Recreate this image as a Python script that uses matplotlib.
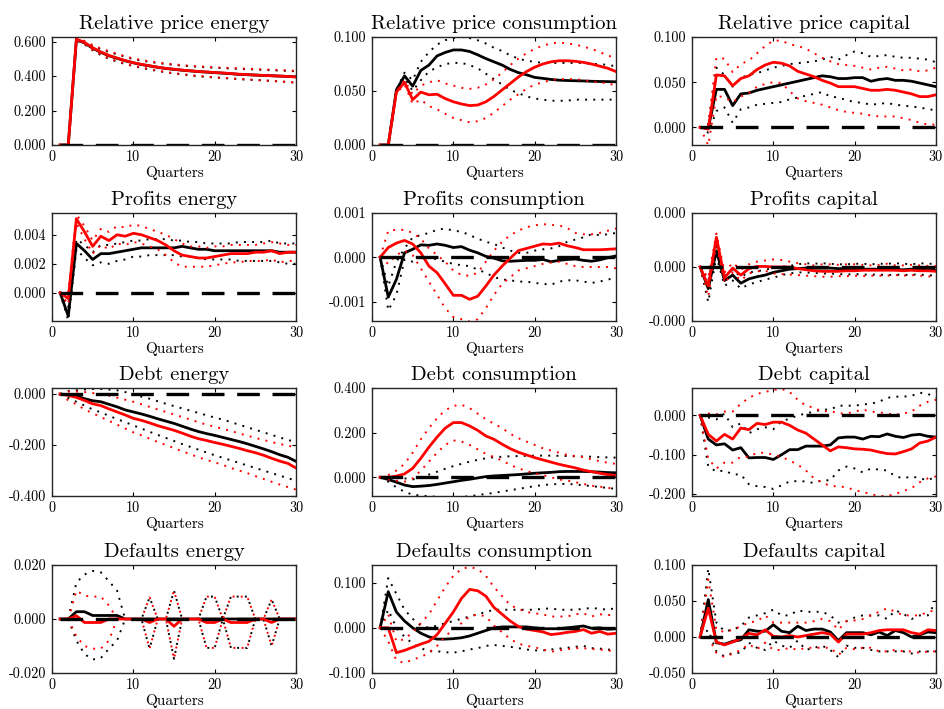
import numpy as np
import matplotlib
matplotlib.use("Agg")
import matplotlib.pyplot as plt
from matplotlib.ticker import FormatStrFormatter

plt.rcParams["font.family"] = "cmr10"
plt.rcParams["mathtext.fontset"] = "cm"
plt.rcParams["axes.unicode_minus"] = False

quarters = np.arange(1, 31)

# --- Relative price energy ---
rpe_b = [0, 0, 0.612, 0.592, 0.562, 0.538, 0.518, 0.503, 0.489, 0.477, 0.467, 0.459, 0.451, 0.444, 0.439,
         0.434, 0.430, 0.426, 0.423, 0.420, 0.417, 0.414, 0.410, 0.408, 0.406, 0.404, 0.402, 0.400, 0.398, 0.396]
rpe_b_hi = [0, 0, 0.618, 0.600, 0.576, 0.556, 0.540, 0.526, 0.512, 0.498, 0.490, 0.482, 0.476, 0.470, 0.465,
            0.461, 0.457, 0.454, 0.451, 0.448, 0.446, 0.444, 0.442, 0.440, 0.438, 0.436, 0.434, 0.432, 0.430, 0.428]
rpe_b_lo = [0, 0, 0.606, 0.584, 0.550, 0.522, 0.500, 0.484, 0.470, 0.458, 0.448, 0.438, 0.430, 0.422, 0.415,
            0.410, 0.404, 0.399, 0.395, 0.392, 0.389, 0.386, 0.382, 0.379, 0.377, 0.375, 0.372, 0.369, 0.366, 0.362]
rpe_r = [0, 0, 0.615, 0.595, 0.565, 0.540, 0.520, 0.505, 0.490, 0.478, 0.468, 0.460, 0.452, 0.445, 0.440,
         0.435, 0.431, 0.427, 0.424, 0.421, 0.418, 0.415, 0.411, 0.409, 0.406, 0.404, 0.402, 0.400, 0.398, 0.395]
rpe_r_hi = [0, 0, 0.620, 0.604, 0.580, 0.560, 0.545, 0.530, 0.515, 0.502, 0.494, 0.486, 0.479, 0.473, 0.468,
            0.464, 0.460, 0.457, 0.454, 0.451, 0.449, 0.447, 0.445, 0.443, 0.441, 0.439, 0.437, 0.435, 0.433, 0.431]
rpe_r_lo = [0, 0, 0.608, 0.586, 0.552, 0.525, 0.503, 0.487, 0.473, 0.460, 0.450, 0.441, 0.432, 0.424, 0.417,
            0.412, 0.406, 0.401, 0.397, 0.393, 0.390, 0.387, 0.384, 0.381, 0.378, 0.375, 0.372, 0.369, 0.366, 0.362]

# --- Relative price consumption ---
rpc_b = [0, 0, 0.051, 0.064, 0.0545, 0.069, 0.074, 0.0825, 0.0857, 0.088, 0.088, 0.0866, 0.0835, 0.080, 0.077,
         0.074, 0.070, 0.067, 0.065, 0.0626, 0.0617, 0.0607, 0.060, 0.0597, 0.0595, 0.0593, 0.059, 0.0588, 0.0587, 0.0585]
rpc_b_hi = [0, 0, 0.051, 0.067, 0.060, 0.077, 0.086, 0.093, 0.097, 0.099, 0.100, 0.099, 0.097, 0.094, 0.090,
            0.087, 0.083, 0.080, 0.078, 0.077, 0.076, 0.076, 0.076, 0.076, 0.076, 0.076, 0.075, 0.075, 0.074, 0.073]
rpc_b_lo = [0, 0, 0.050, 0.062, 0.050, 0.060, 0.068, 0.072, 0.075, 0.076, 0.076, 0.074, 0.071, 0.066, 0.061,
            0.056, 0.051, 0.048, 0.045, 0.043, 0.042, 0.041, 0.041, 0.041, 0.042, 0.042, 0.042, 0.042, 0.042, 0.042]
rpc_r = [0, 0, 0.049, 0.058, 0.042, 0.049, 0.0465, 0.047, 0.043, 0.040, 0.038, 0.0365, 0.037, 0.040, 0.045,
         0.051, 0.057, 0.063, 0.068, 0.072, 0.075, 0.077, 0.078, 0.078, 0.0775, 0.0765, 0.075, 0.073, 0.071, 0.068]
rpc_r_hi = [0, 0, 0.050, 0.060, 0.047, 0.055, 0.058, 0.060, 0.057, 0.055, 0.053, 0.052, 0.053, 0.056, 0.061,
            0.067, 0.074, 0.080, 0.085, 0.089, 0.092, 0.094, 0.095, 0.094, 0.093, 0.091, 0.089, 0.086, 0.083, 0.080]
rpc_r_lo = [0, 0, 0.048, 0.056, 0.038, 0.042, 0.036, 0.033, 0.029, 0.025, 0.023, 0.021, 0.022, 0.025, 0.030,
            0.036, 0.042, 0.047, 0.052, 0.056, 0.058, 0.060, 0.061, 0.061, 0.061, 0.060, 0.059, 0.058, 0.057, 0.055]

# --- Relative price capital ---
rpk_b = [0, -0.001, 0.042, 0.042, 0.024, 0.037, 0.038, 0.041, 0.043, 0.045, 0.047, 0.049, 0.051, 0.053, 0.055,
         0.057, 0.056, 0.054, 0.054, 0.055, 0.055, 0.051, 0.053, 0.054, 0.052, 0.052, 0.051, 0.049, 0.047, 0.045]
rpk_b_hi = [0, 0.003, 0.066, 0.058, 0.045, 0.055, 0.058, 0.060, 0.063, 0.066, 0.068, 0.070, 0.071, 0.072, 0.073,
            0.075, 0.078, 0.075, 0.080, 0.084, 0.082, 0.078, 0.079, 0.080, 0.078, 0.077, 0.077, 0.076, 0.075, 0.072]
rpk_b_lo = [0, -0.006, 0.018, 0.022, 0.005, 0.020, 0.022, 0.025, 0.026, 0.027, 0.028, 0.031, 0.033, 0.035, 0.037,
            0.039, 0.034, 0.033, 0.030, 0.028, 0.027, 0.025, 0.026, 0.027, 0.025, 0.024, 0.023, 0.022, 0.020, 0.019]
rpk_r = [0, -0.002, 0.058, 0.057, 0.046, 0.054, 0.057, 0.064, 0.069, 0.072, 0.071, 0.068, 0.062, 0.059, 0.056,
         0.052, 0.049, 0.045, 0.045, 0.045, 0.043, 0.041, 0.041, 0.042, 0.041, 0.039, 0.037, 0.034, 0.034, 0.036]
rpk_r_hi = [0, 0.003, 0.077, 0.076, 0.061, 0.070, 0.074, 0.082, 0.090, 0.096, 0.096, 0.092, 0.090, 0.087, 0.082,
            0.077, 0.073, 0.070, 0.069, 0.068, 0.066, 0.064, 0.066, 0.067, 0.065, 0.063, 0.064, 0.062, 0.063, 0.066]
rpk_r_lo = [0, -0.020, 0.035, 0.033, 0.028, 0.034, 0.038, 0.045, 0.048, 0.050, 0.049, 0.040, 0.032, 0.029, 0.027,
            0.025, 0.022, 0.019, 0.017, 0.016, 0.015, 0.013, 0.012, 0.012, 0.012, 0.010, 0.008, 0.005, 0.003, 0.003]

# --- Profits energy ---
pe_b = [0, -0.0016, 0.0034, 0.0029, 0.0023, 0.0027, 0.0027, 0.0028, 0.0029, 0.0030, 0.0031, 0.0031, 0.0031, 0.0031, 0.0031,
        0.0032, 0.0031, 0.0030, 0.0030, 0.0029, 0.0029, 0.0029, 0.0029, 0.0029, 0.0029, 0.0029, 0.0029, 0.0028, 0.0028, 0.0028]
pe_b_hi = [0, -0.0010, 0.0037, 0.0033, 0.0028, 0.0033, 0.0033, 0.0034, 0.0035, 0.0036, 0.0036, 0.0037, 0.0037, 0.0037, 0.0036,
           0.0036, 0.0035, 0.0035, 0.0034, 0.0034, 0.0034, 0.0034, 0.0035, 0.0035, 0.0035, 0.0035, 0.0036, 0.0034, 0.0034, 0.0034]
pe_b_lo = [0, -0.0019, 0.0030, 0.0024, 0.0019, 0.0021, 0.0020, 0.0022, 0.0023, 0.0025, 0.0025, 0.0026, 0.0026, 0.0026, 0.0026,
           0.0025, 0.0025, 0.0024, 0.0023, 0.0023, 0.0023, 0.0023, 0.0022, 0.0022, 0.0022, 0.0022, 0.0022, 0.0021, 0.0020, 0.0020]
pe_r = [0, -0.0004, 0.0051, 0.0042, 0.0032, 0.0039, 0.0036, 0.0040, 0.0039, 0.0041, 0.0040, 0.0038, 0.0036, 0.0033, 0.0029,
        0.0026, 0.0025, 0.0024, 0.0024, 0.0025, 0.0026, 0.0027, 0.0027, 0.0027, 0.0028, 0.0028, 0.0029, 0.0027, 0.0028, 0.0028]
pe_r_hi = [0, 0.0000, 0.0054, 0.0046, 0.0036, 0.0044, 0.0042, 0.0046, 0.0045, 0.0047, 0.0046, 0.0044, 0.0042, 0.0040, 0.0037,
           0.0034, 0.0032, 0.0032, 0.0031, 0.0032, 0.0032, 0.0033, 0.0033, 0.0033, 0.0033, 0.0034, 0.0035, 0.0034, 0.0033, 0.0033]
pe_r_lo = [0, -0.0008, 0.0048, 0.0037, 0.0027, 0.0033, 0.0030, 0.0034, 0.0033, 0.0035, 0.0034, 0.0032, 0.0030, 0.0026, 0.0021,
           0.0018, 0.0018, 0.0018, 0.0018, 0.0019, 0.0020, 0.0021, 0.0021, 0.0022, 0.0022, 0.0022, 0.0023, 0.0021, 0.0022, 0.0022]

# --- Profits consumption (units of 1e-3) ---
pc_b = [0, -0.9, -0.5, 0.1, 0.18, 0.28, 0.27, 0.30, 0.27, 0.22, 0.24, 0.16, 0.10, 0.02, -0.02,
        -0.08, -0.09, -0.08, -0.07, -0.07, -0.05, -0.10, -0.07, -0.05, -0.04, -0.07, -0.09, -0.06, -0.01, 0.03]
pc_b_hi = [0, -0.65, -0.1, 0.2, 0.45, 0.50, 0.55, 0.62, 0.65, 0.60, 0.58, 0.50, 0.42, 0.35, 0.30,
           0.22, 0.15, 0.10, 0.10, 0.15, 0.18, 0.20, 0.25, 0.35, 0.40, 0.45, 0.52, 0.50, 0.52, 0.55]
pc_b_lo = [0, -1.2, -0.85, -0.05, -0.1, 0.0, 0.0, -0.05, -0.10, -0.15, -0.18, -0.20, -0.28, -0.35, -0.45,
           -0.50, -0.52, -0.55, -0.55, -0.58, -0.60, -0.62, -0.55, -0.52, -0.52, -0.55, -0.58, -0.55, -0.50, -0.48]
pc_r = [0, 0.22, 0.32, 0.38, 0.30, 0.10, -0.20, -0.35, -0.60, -0.86, -0.86, -0.95, -0.88, -0.65, -0.40,
        -0.20, -0.02, 0.15, 0.20, 0.25, 0.30, 0.29, 0.32, 0.26, 0.22, 0.17, 0.17, 0.17, 0.18, 0.19]
pc_r_hi = [0, 0.60, 0.62, 0.62, 0.55, 0.42, 0.20, 0.05, -0.10, -0.30, -0.40, -0.42, -0.35, -0.10, 0.15,
           0.35, 0.50, 0.60, 0.68, 0.72, 0.75, 0.73, 0.72, 0.66, 0.55, 0.52, 0.52, 0.55, 0.60, 0.65]
pc_r_lo = [0, -0.15, 0.05, 0.15, 0.05, -0.25, -0.55, -0.85, -1.15, -1.35, -1.40, -1.45, -1.40, -1.15, -0.85,
           -0.60, -0.45, -0.30, -0.25, -0.20, -0.15, -0.12, -0.10, -0.15, -0.20, -0.22, -0.22, -0.22, -0.22, -0.25]

# --- Profits capital (units of 1e-4) ---
pk_b = [0, -0.40, 0.30, -0.25, -0.15, -0.30, -0.22, -0.18, -0.15, -0.10, -0.07, -0.04, -0.03, -0.02, -0.02,
        -0.02, -0.02, -0.03, -0.03, -0.04, -0.04, -0.04, -0.04, -0.04, -0.05, -0.05, -0.04, -0.05, -0.06, -0.06]
pk_b_hi = [0, -0.25, 0.40, -0.15, -0.05, -0.18, -0.10, -0.08, -0.05, -0.02, 0.00, 0.02, 0.05, 0.07, 0.06,
           0.07, 0.06, 0.05, 0.05, 0.06, 0.06, 0.05, 0.06, 0.06, 0.07, 0.06, 0.05, 0.07, 0.06, 0.06]
pk_b_lo = [0, -0.65, 0.20, -0.35, -0.25, -0.40, -0.32, -0.28, -0.23, -0.20, -0.15, -0.12, -0.10, -0.10, -0.11,
           -0.12, -0.12, -0.13, -0.14, -0.13, -0.14, -0.14, -0.14, -0.15, -0.14, -0.15, -0.14, -0.14, -0.15, -0.16]
pk_r = [0, -0.35, 0.55, -0.20, -0.02, -0.15, -0.03, 0.01, 0.01, 0.00, 0.00, 0.00, -0.03, -0.05, -0.07,
        -0.08, -0.08, -0.08, -0.07, -0.07, -0.06, -0.06, -0.06, -0.06, -0.06, -0.07, -0.06, -0.07, -0.07, -0.08]
pk_r_hi = [0, -0.20, 0.62, -0.10, 0.08, -0.05, 0.05, 0.10, 0.12, 0.14, 0.13, 0.10, 0.07, 0.05, 0.03,
           0.05, 0.05, 0.04, 0.05, 0.05, 0.04, 0.03, 0.04, 0.06, 0.03, 0.03, 0.04, 0.03, 0.02, 0.02]
pk_r_lo = [0, -0.55, 0.45, -0.30, -0.10, -0.25, -0.12, -0.08, -0.07, -0.12, -0.13, -0.14, -0.15, -0.16, -0.17,
           -0.18, -0.18, -0.17, -0.17, -0.16, -0.17, -0.16, -0.16, -0.16, -0.15, -0.16, -0.15, -0.16, -0.17, -0.19]

# --- Debt energy ---
de_b = [0, -0.002, -0.008, -0.018, -0.026, -0.030, -0.040, -0.050, -0.062, -0.070, -0.078, -0.087, -0.097, -0.106, -0.115,
        -0.126, -0.137, -0.147, -0.155, -0.162, -0.170, -0.178, -0.186, -0.195, -0.205, -0.215, -0.226, -0.238, -0.248, -0.264]
de_b_hi = [0, 0.012, 0.015, 0.018, 0.020, 0.020, 0.018, 0.015, 0.008, 0.000, -0.010, -0.018, -0.028, -0.038, -0.047,
           -0.056, -0.065, -0.074, -0.083, -0.092, -0.100, -0.110, -0.120, -0.130, -0.140, -0.150, -0.160, -0.170, -0.180, -0.188]
de_b_lo = [0, -0.015, -0.030, -0.045, -0.060, -0.072, -0.085, -0.098, -0.110, -0.123, -0.135, -0.148, -0.160, -0.172, -0.184,
           -0.196, -0.207, -0.218, -0.229, -0.240, -0.250, -0.260, -0.270, -0.280, -0.290, -0.300, -0.310, -0.320, -0.330, -0.340]
de_r = [0, -0.005, -0.013, -0.025, -0.038, -0.045, -0.058, -0.070, -0.082, -0.095, -0.103, -0.113, -0.124, -0.133, -0.142,
        -0.153, -0.165, -0.175, -0.182, -0.190, -0.197, -0.205, -0.213, -0.222, -0.230, -0.240, -0.252, -0.263, -0.272, -0.290]
de_r_hi = [0, 0.010, 0.010, 0.008, 0.004, 0.000, -0.006, -0.014, -0.022, -0.030, -0.040, -0.050, -0.060, -0.070, -0.080,
           -0.090, -0.100, -0.110, -0.120, -0.128, -0.136, -0.145, -0.154, -0.163, -0.172, -0.180, -0.188, -0.196, -0.202, -0.210]
de_r_lo = [0, -0.025, -0.040, -0.060, -0.075, -0.090, -0.105, -0.120, -0.135, -0.150, -0.162, -0.175, -0.188, -0.200, -0.212,
           -0.224, -0.236, -0.248, -0.258, -0.268, -0.278, -0.290, -0.300, -0.310, -0.322, -0.333, -0.344, -0.355, -0.365, -0.375]

# --- Debt consumption ---
dc_b = [0, -0.010, -0.022, -0.035, -0.042, -0.040, -0.037, -0.032, -0.026, -0.020, -0.014, -0.009, -0.003, 0.003, 0.006,
        0.008, 0.010, 0.012, 0.015, 0.018, 0.020, 0.022, 0.025, 0.026, 0.026, 0.026, 0.025, 0.023, 0.021, 0.020]
dc_b_hi = [0, 0.000, 0.000, -0.005, -0.010, 0.000, 0.012, 0.025, 0.038, 0.050, 0.060, 0.070, 0.078, 0.085, 0.090,
           0.092, 0.094, 0.095, 0.096, 0.097, 0.097, 0.097, 0.096, 0.095, 0.094, 0.093, 0.092, 0.090, 0.089, 0.088]
dc_b_lo = [0, -0.020, -0.045, -0.065, -0.078, -0.082, -0.085, -0.088, -0.090, -0.090, -0.088, -0.085, -0.080, -0.075, -0.070,
           -0.064, -0.058, -0.052, -0.046, -0.040, -0.035, -0.032, -0.030, -0.030, -0.032, -0.036, -0.040, -0.044, -0.048, -0.052]
dc_r = [0, 0.000, 0.005, 0.015, 0.040, 0.085, 0.135, 0.180, 0.220, 0.245, 0.245, 0.230, 0.210, 0.185, 0.170,
        0.148, 0.128, 0.112, 0.100, 0.088, 0.078, 0.068, 0.058, 0.050, 0.042, 0.032, 0.025, 0.018, 0.012, 0.008]
dc_r_hi = [0, 0.010, 0.030, 0.060, 0.110, 0.170, 0.220, 0.265, 0.300, 0.320, 0.325, 0.310, 0.285, 0.260, 0.240,
           0.220, 0.195, 0.175, 0.160, 0.145, 0.130, 0.120, 0.110, 0.100, 0.095, 0.090, 0.080, 0.072, 0.065, 0.060]
dc_r_lo = [0, -0.010, -0.015, -0.020, -0.005, 0.030, 0.070, 0.110, 0.145, 0.165, 0.160, 0.145, 0.125, 0.105, 0.090,
           0.075, 0.055, 0.040, 0.028, 0.018, 0.010, 0.000, -0.010, -0.015, -0.022, -0.030, -0.038, -0.042, -0.048, -0.050]

# --- Debt capital ---
dk_b = [0, -0.060, -0.075, -0.072, -0.088, -0.082, -0.108, -0.107, -0.107, -0.112, -0.100, -0.087, -0.087, -0.078, -0.078,
        -0.078, -0.075, -0.057, -0.055, -0.055, -0.060, -0.053, -0.054, -0.047, -0.053, -0.056, -0.050, -0.048, -0.053, -0.055]
dk_b_hi = [0, -0.005, -0.010, 0.005, -0.030, -0.020, -0.045, -0.035, -0.030, -0.035, -0.015, -0.008, 0.000, 0.005, 0.010,
           0.015, 0.015, 0.025, 0.025, 0.025, 0.028, 0.030, 0.035, 0.045, 0.048, 0.048, 0.050, 0.058, 0.055, 0.045]
dk_b_lo = [0, -0.130, -0.143, -0.140, -0.150, -0.150, -0.175, -0.180, -0.182, -0.187, -0.178, -0.168, -0.167, -0.168, -0.172,
           -0.165, -0.165, -0.140, -0.130, -0.135, -0.145, -0.135, -0.138, -0.140, -0.155, -0.160, -0.155, -0.160, -0.165, -0.155]
dk_r = [0, -0.048, -0.065, -0.048, -0.060, -0.032, -0.036, -0.020, -0.023, -0.017, -0.017, -0.025, -0.037, -0.045, -0.060,
        -0.075, -0.090, -0.080, -0.082, -0.085, -0.086, -0.088, -0.093, -0.097, -0.098, -0.092, -0.085, -0.070, -0.065, -0.055]
dk_r_hi = [0, 0.005, 0.003, 0.010, 0.010, 0.030, 0.045, 0.055, 0.060, 0.065, 0.068, 0.060, 0.040, 0.025, 0.020,
           0.010, 0.012, 0.005, 0.005, 0.010, 0.015, 0.010, 0.008, 0.005, 0.002, 0.005, 0.010, 0.025, 0.035, 0.040]
dk_r_lo = [0, -0.110, -0.135, -0.120, -0.120, -0.105, -0.105, -0.095, -0.095, -0.100, -0.105, -0.115, -0.125, -0.140, -0.160,
           -0.170, -0.180, -0.180, -0.183, -0.190, -0.195, -0.200, -0.205, -0.205, -0.200, -0.192, -0.185, -0.170, -0.160, -0.155]

# --- Defaults energy (units of 1e-3) ---
fe_b = [0, 0, 2.7, 2.7, 1.3, 1.3, 1.3, 1.3, 0, 0, 0, 0, 0, 0, 0,
        0, 0, 0, 0, 0, 0, 0, 0, 0, 0, 0, 0, 0, 0, 0]
fe_b_hi = [0, 0, 13.5, 16.5, 17.8, 17.3, 14.0, 10.5, 0, 0, 0, 8, 0, 0, 10.5,
           0, 0, 0, 8.3, 8.3, 0, 8.3, 8.3, 8.3, 0, 0, 7.2, 0, 0, 0]
fe_b_lo = [0, 0, -8, -13, -15, -14.5, -11, -8, 0, 0, 0, -11, 0, 0, -14.8,
           0, 0, 0, -10.7, -10.7, 0, -10.7, -10.7, -10.7, 0, 0, -10, 0, 0, 0]
fe_r = [0, 0, 1.2, -1.3, -1.3, -1.3, 0, 0, 0, 0, 0, -1.3, 0, 0, -2.7,
        0, 0, 0, -1.3, -1.3, 0, -1.3, -1.3, -1.3, 0, 0, -1.3, 0, 0, 0]
fe_r_hi = [0, 0, 10.5, 8.6, 8.3, 8.3, 5, 0, 0, 0, 0, 8, 0, 0, 10.5,
           0, 0, 0, 8.3, 8.3, 0, 8.3, 8.3, 8.3, 0, 0, 7.2, 0, 0, 0]
fe_r_lo = [0, 0, -6.5, -10, -11, -11, -8, 0, 0, 0, 0, -11, 0, 0, -14.8,
           0, 0, 0, -10.7, -10.7, 0, -10.7, -10.7, -10.7, 0, 0, -10, 0, 0, 0]

# --- Defaults consumption ---
fc_b = [0, 0.080, 0.035, 0.015, 0.000, -0.012, -0.020, -0.025, -0.025, -0.024, -0.022, -0.018, -0.012, -0.006, 0.000,
        0.002, 0.002, 0.002, 0.002, 0.000, -0.002, -0.002, -0.002, 0.000, 0.002, 0.004, -0.001, 0.000, -0.003, -0.002]
fc_b_hi = [0, 0.110, 0.075, 0.040, 0.020, 0.005, 0.000, 0.005, 0.010, 0.015, 0.020, 0.025, 0.030, 0.035, 0.040,
           0.040, 0.040, 0.040, 0.040, 0.040, 0.042, 0.043, 0.040, 0.040, 0.040, 0.042, 0.044, 0.042, 0.040, 0.044]
fc_b_lo = [0, 0.040, 0.000, -0.020, -0.035, -0.045, -0.052, -0.052, -0.054, -0.055, -0.052, -0.048, -0.045, -0.040, -0.038,
           -0.040, -0.042, -0.045, -0.048, -0.050, -0.050, -0.048, -0.046, -0.044, -0.042, -0.040, -0.045, -0.046, -0.048, -0.050]
fc_r = [0, 0.000, -0.055, -0.050, -0.043, -0.036, -0.030, -0.015, 0.010, 0.035, 0.065, 0.085, 0.082, 0.070, 0.045,
        0.030, 0.015, 0.003, -0.003, -0.006, -0.009, -0.015, -0.013, -0.010, -0.008, -0.004, -0.012, -0.008, -0.014, -0.012]
fc_r_hi = [0, 0.030, -0.030, -0.025, -0.010, 0.010, 0.030, 0.060, 0.090, 0.115, 0.130, 0.135, 0.130, 0.115, 0.090,
           0.070, 0.050, 0.042, 0.035, 0.032, 0.030, 0.025, 0.025, 0.025, 0.030, 0.032, 0.025, 0.030, 0.028, 0.030]
fc_r_lo = [0, -0.030, -0.072, -0.078, -0.070, -0.065, -0.055, -0.040, -0.020, -0.002, 0.010, 0.025, 0.030, 0.025, 0.005,
           -0.010, -0.025, -0.035, -0.040, -0.043, -0.048, -0.053, -0.050, -0.047, -0.045, -0.045, -0.047, -0.048, -0.050, -0.053]

# --- Defaults capital ---
fk_b = [0, 0.052, -0.008, -0.010, -0.006, -0.004, 0.010, 0.008, 0.008, 0.017, 0.008, 0.006, 0.015, 0.009, 0.011,
        0.011, 0.007, -0.005, 0.006, 0.006, 0.006, 0.003, 0.007, 0.002, 0.009, 0.006, 0.000, 0.003, 0.007, 0.006]
fk_b_hi = [0, 0.095, 0.020, 0.008, 0.010, 0.015, 0.027, 0.030, 0.033, 0.038, 0.030, 0.030, 0.037, 0.035, 0.035,
           0.035, 0.030, 0.020, 0.022, 0.027, 0.030, 0.030, 0.030, 0.025, 0.037, 0.032, 0.025, 0.030, 0.030, 0.050]
fk_b_lo = [0, 0.010, -0.020, -0.027, -0.022, -0.022, -0.008, -0.015, -0.018, -0.005, -0.012, -0.015, -0.005, -0.018, -0.015,
           -0.012, -0.018, -0.028, -0.012, -0.015, -0.015, -0.018, -0.020, -0.020, -0.020, -0.020, -0.023, -0.020, -0.020, -0.020]
fk_r = [0, 0.040, -0.007, -0.011, -0.007, -0.002, 0.005, 0.003, 0.010, 0.001, 0.000, 0.002, 0.000, 0.002, 0.004,
        0.006, 0.004, -0.007, 0.004, 0.004, 0.004, 0.006, 0.009, 0.010, 0.010, 0.010, 0.006, 0.004, 0.010, 0.009]
fk_r_hi = [0, 0.080, 0.010, 0.007, 0.010, 0.015, 0.020, 0.022, 0.030, 0.020, 0.020, 0.020, 0.020, 0.020, 0.022,
           0.025, 0.022, 0.010, 0.022, 0.023, 0.025, 0.030, 0.035, 0.040, 0.035, 0.030, 0.030, 0.030, 0.035, 0.037]
fk_r_lo = [0, 0.000, -0.022, -0.028, -0.023, -0.018, -0.010, -0.017, -0.008, -0.018, -0.018, -0.015, -0.018, -0.015, -0.015,
           -0.015, -0.015, -0.025, -0.015, -0.017, -0.015, -0.015, -0.020, -0.020, -0.018, -0.020, -0.020, -0.022, -0.020, -0.020]

titles = ["Relative price energy", "Relative price consumption", "Relative price capital",
          "Profits energy", "Profits consumption", "Profits capital",
          "Debt energy", "Debt consumption", "Debt capital",
          "Defaults energy", "Defaults consumption", "Defaults capital"]

# (black, black hi, black lo, red, red hi, red lo, scale)
panels = [
    (rpe_b, rpe_b_hi, rpe_b_lo, rpe_r, rpe_r_hi, rpe_r_lo, 1),
    (rpc_b, rpc_b_hi, rpc_b_lo, rpc_r, rpc_r_hi, rpc_r_lo, 1),
    (rpk_b, rpk_b_hi, rpk_b_lo, rpk_r, rpk_r_hi, rpk_r_lo, 1),
    (pe_b, pe_b_hi, pe_b_lo, pe_r, pe_r_hi, pe_r_lo, 1),
    (pc_b, pc_b_hi, pc_b_lo, pc_r, pc_r_hi, pc_r_lo, 1e-3),
    (pk_b, pk_b_hi, pk_b_lo, pk_r, pk_r_hi, pk_r_lo, 1e-4),
    (de_b, de_b_hi, de_b_lo, de_r, de_r_hi, de_r_lo, 1),
    (dc_b, dc_b_hi, dc_b_lo, dc_r, dc_r_hi, dc_r_lo, 1),
    (dk_b, dk_b_hi, dk_b_lo, dk_r, dk_r_hi, dk_r_lo, 1),
    (fe_b, fe_b_hi, fe_b_lo, fe_r, fe_r_hi, fe_r_lo, 1e-3),
    (fc_b, fc_b_hi, fc_b_lo, fc_r, fc_r_hi, fc_r_lo, 1),
    (fk_b, fk_b_hi, fk_b_lo, fk_r, fk_r_hi, fk_r_lo, 1),
]

ylims = [(0, 0.627), (0, 0.1), (-0.0196, 0.1),
         (-0.00194, 0.0055), (-0.00144, 0.001), (-1e-4, 1e-4),
         (-0.4, 0.024), (-0.084, 0.4), (-0.205, 0.07),
         (-0.02, 0.02), (-0.1, 0.139), (-0.05, 0.1)]
yticks = [[0, 0.2, 0.4, 0.6], [0, 0.05, 0.1], [0, 0.05, 0.1],
          [0, 0.002, 0.004], [-0.001, 0, 0.001], [-1e-4, 0, 1e-4],
          [-0.4, -0.2, 0], [0, 0.2, 0.4], [-0.2, -0.1, 0],
          [-0.02, 0, 0.02], [-0.1, 0, 0.1], [-0.05, 0, 0.05, 0.1]]

fig = plt.figure(figsize=(9.45, 7.09), dpi=100)
W, H = 945, 709
lefts = [52, 372, 692]
tops = [37, 213, 388, 565]
aw, ah = 244, 108

for i, (title, data) in enumerate(zip(titles, panels)):
    r, c = divmod(i, 3)
    ax = fig.add_axes([lefts[c] / W, 1 - (tops[r] + ah) / H, aw / W, ah / H])
    b, bh, bl, rd, rh, rl, s = data
    dot = dict(lw=1.4, dashes=(1, 3.2))
    ax.plot(quarters, np.array(bh) * s, color="k", **dot)
    ax.plot(quarters, np.array(bl) * s, color="k", **dot)
    ax.plot(quarters, np.array(b) * s, color="k", lw=2.0)
    ax.plot(quarters, np.array(rh) * s, color="red", **dot)
    ax.plot(quarters, np.array(rl) * s, color="red", **dot)
    ax.plot(quarters, np.array(rd) * s, color="red", lw=2.0)
    ax.plot(quarters, np.zeros(len(quarters)), color="k", lw=2.4, dashes=(6.8, 3.8))
    ax.set_xlim(0, 30)
    ax.set_ylim(*ylims[i])
    ax.set_xticks([0, 10, 20, 30])
    ax.set_yticks(yticks[i])
    ax.yaxis.set_major_formatter(FormatStrFormatter("%.3f"))
    ax.tick_params(direction="in", top=True, right=True, length=3, width=0.8,
                   labelsize=10.3, pad=4)
    for sp in ax.spines.values():
        sp.set_linewidth(1.0)
        sp.set_color("#262626")
    ax.set_title(title, fontsize=14.8, pad=6)
    ax.set_xlabel("Quarters", fontsize=11, labelpad=1.5)

fig.savefig("out.png", dpi=100)
